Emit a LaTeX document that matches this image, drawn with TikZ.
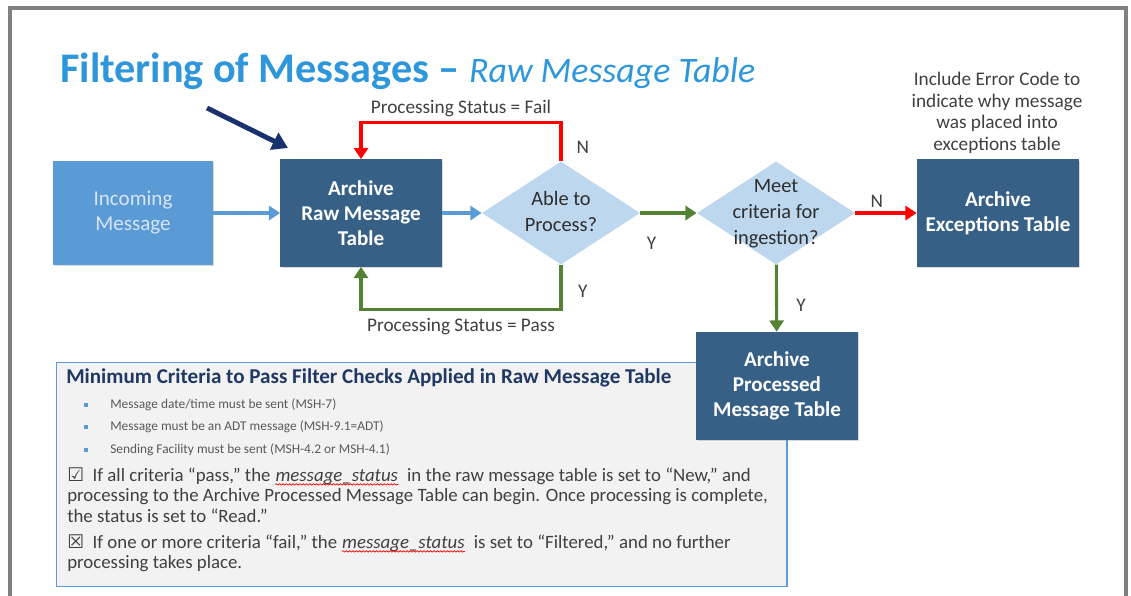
\documentclass[tikz,border=0pt]{standalone}
\usepackage{fontspec}
\setmainfont{Carlito}
\newfontfamily\symfont{DejaVu Sans}
\usetikzlibrary{shapes.geometric,arrows.meta,shadows,decorations.pathmorphing}

\definecolor{titleblue}{RGB}{46,150,219}
\definecolor{boxblue}{RGB}{55,96,134}
\definecolor{inblue}{RGB}{91,155,213}
\definecolor{intext}{RGB}{214,228,243}
\definecolor{diafill}{RGB}{189,215,238}
\definecolor{flowgreen}{RGB}{84,130,53}
\definecolor{flowred}{RGB}{255,0,0}
\definecolor{labelgray}{RGB}{64,64,64}
\definecolor{critfill}{RGB}{242,242,242}
\definecolor{crittitle}{RGB}{31,56,100}
\definecolor{bulletgray}{RGB}{89,89,89}
\definecolor{pointerblue}{RGB}{25,50,110}

\newcommand\wavy[1]{\tikz[baseline=(w.base)]{\node[inner sep=0pt, anchor=base] (w) {\itshape #1};
    \draw[flowred, line width=0.5pt, decorate, decoration={snake, amplitude=0.5pt, segment length=2.4pt}] ([yshift=-2.4pt]w.base west) -- ([yshift=-2.4pt]w.base east);}}

\begin{document}
\begin{tikzpicture}[x=0.025cm, y=-0.025cm,
    tablebox/.style={rectangle, fill=boxblue, text=white, align=center, minimum width=4.025cm, minimum height=2.675cm, font=\fontsize{15}{17.8}\selectfont\bfseries, drop shadow={shadow xshift=1pt, shadow yshift=-1pt, opacity=0.3}},
    inbox/.style={rectangle, fill=inblue, text=intext, align=center, minimum width=3.975cm, minimum height=2.6cm, font=\fontsize{15}{17.8}\selectfont, drop shadow={shadow xshift=1pt, shadow yshift=-1pt, opacity=0.3}},
    decision/.style={diamond, fill=diafill, text=labelgray!70!black, inner sep=0pt, minimum width=3.95cm, minimum height=2.575cm, font=\fontsize{14.5}{18.5}\selectfont},
    lbl/.style={text=labelgray, inner sep=1pt, font=\fontsize{13.7}{15}\selectfont},
    blueflow/.style={draw=inblue, line width=2.2pt, -{Triangle[length=8pt, width=10pt]}},
    greenflow/.style={draw=flowgreen, line width=2.2pt, -{Triangle[length=8pt, width=10pt]}},
    redflow/.style={draw=flowred, line width=2.2pt, -{Triangle[length=8pt, width=10pt]}},
    bsq/.style={rectangle, fill=inblue, inner sep=0pt, minimum size=3pt},
    bullettext/.style={text=bulletgray, inner sep=0pt, anchor=west, font=\fontsize{9.5}{11}\selectfont},
    checktext/.style={text=labelgray, inner sep=0pt, align=left, anchor=north west, font=\fontsize{13.4}{14.9}\selectfont}
]
\useasboundingbox (0,0) rectangle (1131,595);
\draw[gray, line width=2.2pt] (10,600) -- (10,8) -- (1126,8) -- (1126,600);

\node[anchor=base west, inner sep=0pt, text=titleblue] (title) at (60,82)
    {\fontsize{30}{34}\selectfont\bfseries Filtering of Messages \textendash\ {\mdseries\itshape\fontsize{25.5}{28}\selectfont Raw Message Table}};

\node[inbox] (incoming) at (133,213) {Incoming\\Message};
\node[tablebox] (raw) at (361,213) {Archive\\Raw Message\\Table};
\node[decision] (able) at (561,213) {\makebox[0pt]{\begin{tabular}{@{}c@{}}Able to\\Process?\end{tabular}}};
\node[decision] (meet) at (776,213) {\makebox[0pt]{\begin{tabular}{@{}c@{}}Meet\\criteria for\\ingestion?\end{tabular}}};
\node[tablebox, minimum width=4.05cm] (except) at (998,213) {Archive\\Exceptions Table};
\node[lbl, align=center, font=\fontsize{13.7}{15.3}\selectfont] (errnote) at (997,113) {Include Error Code to\\indicate why message\\was placed into\\exceptions table};

\coordinate (ptrstart) at (207,108);
\coordinate (ptrend) at (288,148);
\draw[pointerblue, line width=3.5pt, -{Triangle[length=11pt, width=13pt]}] (ptrstart) -- (ptrend);

\draw[blueflow] (incoming) -- (raw);
\draw[blueflow] (raw) -- (able);
\draw[redflow] (able.north) -- node[pos=0.35, right=9pt, lbl] {N} ++(0,-39) -| node[pos=0.25, above=2pt, lbl] {Processing Status = Fail} (raw.north);
\draw[greenflow] (able.south) -- node[pos=0.6, right=10pt, lbl] {Y} ++(0,45) -| node[pos=0.25, below=4pt, lbl] {Processing Status = Pass} (raw.south);
\draw[greenflow] (able) -- node[pos=0.2, below=15pt, lbl] {Y} (meet);
\draw[redflow] (meet) -- node[pos=0.35, above=2pt, lbl] {N} (except);

\node[rectangle, draw=inblue, line width=1pt, fill=critfill, minimum width=18.25cm, minimum height=5.6cm, anchor=north west] (critbox) at (56,362) {};

\node[tablebox, minimum height=2.7cm] (processed) at (777,386) {Archive\\Processed\\Message Table};
\draw[greenflow] (meet) -- node[pos=0.6, right=12pt, lbl] {Y} (processed);

\node[anchor=west, inner sep=0pt, text=crittitle, font=\fontsize{15}{17}\selectfont\bfseries] (crithead) at (66,378) {Minimum Criteria to Pass Filter Checks Applied in Raw Message Table};
\foreach \y/\t [count=\i] in {405/{Message date/time must be sent (MSH-7)}, 427/{Message must be an ADT message (MSH-9.1=ADT)}, 450/{Sending Facility must be sent (MSH-4.2 or MSH-4.1)}} {
    \node[bsq] (sq\i) at (86,\y) {};
    \node[bullettext] (crit\i) at (110,\y) {\t};
}
\node[checktext] (passnote) at (67,467) {{\symfont ☑}\ \ If all criteria “pass,” the \wavy{message\_status}\ \ in the raw message table is set to “New,” and\\processing to the Archive Processed Message Table can begin. Once processing is complete,\\the status is set to “Read.”};
\node[checktext] (failnote) at (67,534) {{\symfont ☒}\ \ If one or more criteria “fail,” the \wavy{message\_status}\ \ is set to “Filtered,” and no further\\processing takes place.};
\end{tikzpicture}
\end{document}
